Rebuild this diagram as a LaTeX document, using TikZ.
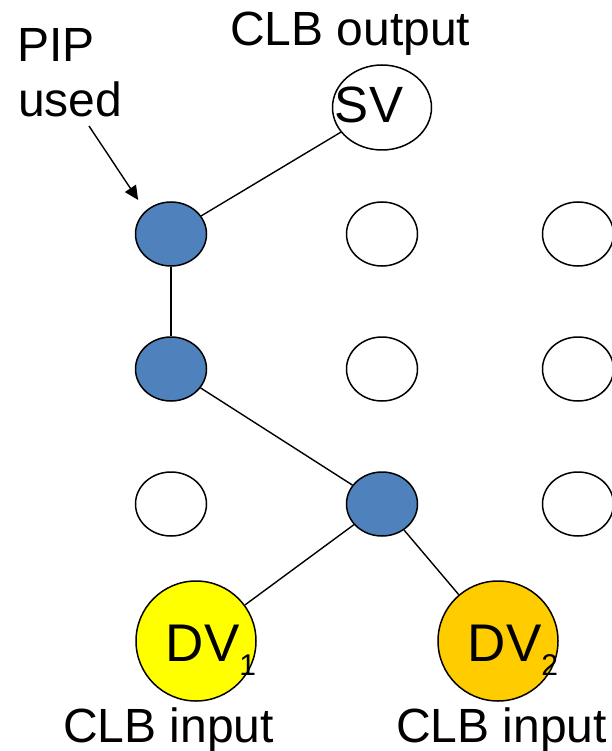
\documentclass[tikz,border=0pt]{standalone}
\usepackage{fontspec}
\setmainfont{Liberation Sans}
\usetikzlibrary{shapes.geometric, arrows.meta}
\definecolor{pipblue}{RGB}{79,129,189}
\definecolor{dvyellow}{RGB}{255,255,0}
\definecolor{dvgold}{RGB}{255,204,0}

\begin{document}
\begin{tikzpicture}[x=1pt, y=-1pt,
    pip/.style={ellipse, draw, line width=1.5pt, minimum width=71pt, minimum height=64pt, inner sep=0pt},
    clb/.style={circle, draw, line width=1.5pt, minimum size=120pt, inner sep=0pt},
    wire/.style={line width=1.4pt},
    big/.style={font=\fontsize{53}{60}\selectfont, inner sep=0pt, anchor=base},
    lbl/.style={font=\fontsize{48}{56}\selectfont, inner sep=0pt, anchor=base west}]
    \useasboundingbox (0,0) rectangle (611,751);

    % PIP matrix
    \foreach \n/\x/\y in {p21/382/234, p31/578/234, p22/382/369, p32/578/369, p13/171/504, p33/578/504}
        \node[pip, fill=white] (\n) at (\x,\y) {};
    \node[pip, fill=pipblue] (p11) at (171,234) {};
    \node[pip, fill=pipblue] (p12) at (171,369) {};
    \node[pip, fill=pipblue] (p23) at (382,504) {};

    % source and destinations
    \node[ellipse, draw, line width=1.5pt, minimum width=99pt, minimum height=85pt, inner sep=0pt] (sv) at (382,107.5) {};
    \node[font=\fontsize{51}{60}\selectfont, inner sep=0pt, anchor=base] (svtext) at (369,123) {SV};
    \node[clb, fill=dvyellow] (dv1) at (196,641) {};
    \node[clb, fill=dvgold] (dv2) at (498,641) {};
    \node[big] (dv1text) at (211,661) {DV\raisebox{-14pt}{\fontsize{30}{30}\selectfont 1}};
    \node[big] (dv2text) at (513,661) {DV\raisebox{-14pt}{\fontsize{30}{30}\selectfont 2}};

    % routed net
    \draw[wire] (sv) -- (p11);
    \draw[wire] (p11) -- (p12);
    \draw[wire] (p12) -- (p23);
    \draw[wire] (p23) -- (dv1);
    \draw[wire] (p23) -- (dv2);

    % labels
    \node[lbl] (outlbl) at (230,46) {CLB output};
    \node[lbl] (piplbl) at (17,61.5) {PIP};
    \node[lbl] (usedlbl) at (18,117) {used};
    \node[lbl] (in1lbl) at (63,742) {CLB input};
    \node[lbl] (in2lbl) at (396,742) {CLB input};

    \coordinate (tail) at (89,126);
    \draw[wire, -{Triangle[length=14pt, width=13pt]}, shorten >=13pt] (tail) -- (p11.north west);
\end{tikzpicture}
\end{document}
